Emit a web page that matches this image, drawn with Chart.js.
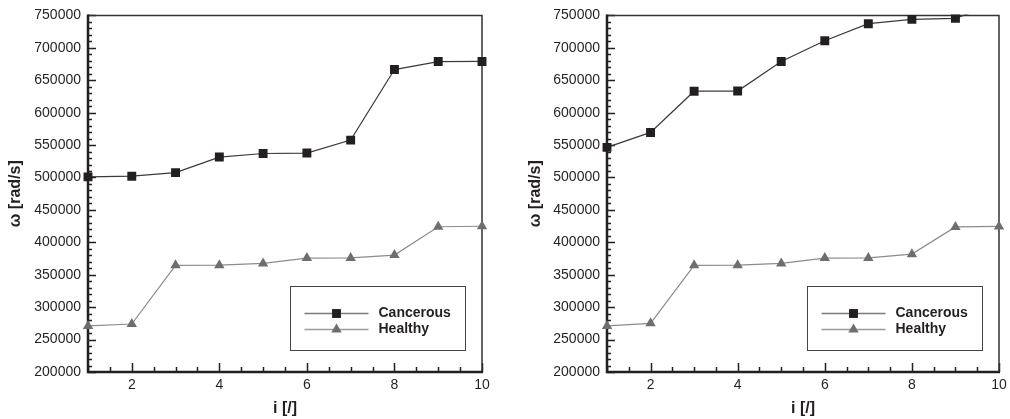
<!doctype html>
<html>
<head>
  <title>omega vs i</title>
  <script src="https://cdn.jsdelivr.net/npm/chart.js@4.4.1/dist/chart.umd.min.js"></script>
  <style>
    html, body { margin: 0; padding: 0; background: #fff; }
    .row { display: flex; width: 1010px; height: 419px; }
    canvas { display: block; }
  </style>
</head>
<body>
  <div class="row">
    <canvas id="leftChart" width="505" height="419"></canvas>
    <canvas id="rightChart" width="505" height="419"></canvas>
  </div>

  <script>
    // data
    var iValues = [1, 2, 3, 4, 5, 6, 7, 8, 9, 10];
    var leftCancerous = [501000, 502000, 507500, 531500, 537000, 537700, 557700, 666500, 678800, 679000];
    var leftHealthy = [271000, 274000, 364500, 364800, 367500, 375700, 376000, 380300, 424000, 424800];
    var rightCancerous = [546500, 569500, 633100, 633300, 678800, 711000, 737200, 743800, 745400, 770000];
    var rightHealthy = [271000, 275000, 364500, 364800, 367500, 375700, 376000, 381800, 423800, 424500];
    var xTickLabels = [2, 4, 6, 8, 10];
    var yMin = 200000, yMax = 750000, yStep = 50000, yMinorStep = 10000;
    var xMin = 1, xMax = 10, xMinorStep = 0.5;

    var FONT = "'Liberation Sans', Arial, sans-serif";
    var ink = '#231f20';

    function points(vals) {
      return vals.map(function(v, k) { return { x: iValues[k], y: v }; });
    }

    // frame + inward ticks, drawn under the data
    var frameTicks = {
      id: 'frameTicks',
      beforeDatasetsDraw: function(chart) {
        var ctx = chart.ctx, a = chart.chartArea;
        var xs = chart.scales.x, ys = chart.scales.y;
        ctx.save();
        ctx.strokeStyle = ink;
        ctx.lineWidth = 1.5;
        ctx.beginPath();
        for (var v = xMin; v <= xMax + 1e-9; v += xMinorStep) {
          var px = Math.round(xs.getPixelForValue(v)) + 0.5;
          var len = (v % 2 === 0) ? 9 : 5;
          ctx.moveTo(px, a.bottom);
          ctx.lineTo(px, a.bottom - len);
        }
        for (var w = yMin; w <= yMax; w += yMinorStep) {
          var py = Math.round(ys.getPixelForValue(w)) + 0.5;
          var l2 = (w % yStep === 0) ? 8 : 4;
          ctx.moveTo(a.left, py);
          ctx.lineTo(a.left + l2, py);
        }
        ctx.stroke();

        ctx.lineWidth = 1.5;
        ctx.strokeStyle = '#333';
        ctx.beginPath();
        ctx.moveTo(a.left, a.top);
        ctx.lineTo(a.right, a.top);
        ctx.lineTo(a.right, a.bottom);
        ctx.stroke();

        ctx.lineWidth = 2.5;
        ctx.strokeStyle = ink;
        ctx.beginPath();
        ctx.moveTo(a.left, a.top - 1);
        ctx.lineTo(a.left, a.bottom);
        ctx.lineTo(a.right + 1, a.bottom);
        ctx.stroke();
        ctx.restore();
      }
    };

    // boxed legend inside the plot, lower right
    var boxLegend = {
      id: 'boxLegend',
      afterDatasetsDraw: function(chart) {
        var ctx = chart.ctx, a = chart.chartArea;
        var w = 175, h = 64;
        var bx = Math.round(a.right - 17 - w) + 0.5, by = Math.round(a.bottom - 22 - h) + 0.5;
        ctx.save();
        ctx.fillStyle = '#fff';
        ctx.fillRect(bx, by, w, h);
        ctx.strokeStyle = '#444';
        ctx.lineWidth = 1;
        ctx.strokeRect(bx, by, w, h);
        chart.data.datasets.forEach(function(ds, k) {
          var y = by + 27 + k * 16;
          ctx.strokeStyle = ds.legendLine;
          ctx.lineWidth = 1.5;
          ctx.beginPath();
          ctx.moveTo(bx + 14, y);
          ctx.lineTo(bx + 78, y);
          ctx.stroke();
          ctx.fillStyle = ds.pointBackgroundColor;
          Chart.helpers.drawPoint(ctx, { pointStyle: ds.pointStyle, radius: ds.pointRadius, rotation: 0, borderWidth: 0 }, bx + 46, y);
          ctx.fillStyle = ink;
          ctx.font = 'bold 14px ' + FONT;
          ctx.textBaseline = 'middle';
          ctx.textAlign = 'left';
          ctx.fillText(ds.label, bx + 88, y);
        });
        ctx.restore();
      }
    };

    function makeChart(id, cancerous, healthy, axisWidth, titlePad, rightPad) {
      var ctx = document.getElementById(id).getContext('2d');
      return new Chart(ctx, {
        type: 'line',
        data: {
          datasets: [{
            label: 'Cancerous',
            data: points(cancerous),
            borderColor: '#3a3a3a',
            legendLine: '#7a7a7a',
            borderWidth: 1.2,
            pointStyle: 'rect',
            pointRadius: 6.3,
            pointBorderWidth: 0,
            pointBackgroundColor: ink,
            tension: 0,
            clip: { left: 8, right: 8, top: 1, bottom: 8 }
          }, {
            label: 'Healthy',
            data: points(healthy),
            borderColor: '#8c8c8c',
            legendLine: '#9a9a9a',
            borderWidth: 1.2,
            pointStyle: 'triangle',
            pointRadius: 6,
            pointBorderWidth: 0,
            pointBackgroundColor: '#6d6e71',
            tension: 0,
            clip: { left: 8, right: 8, top: 1, bottom: 8 }
          }]
        },
        options: {
          responsive: false,
          animation: false,
          events: [],
          layout: { padding: { top: 15, right: rightPad, bottom: 0, left: 0 } },
          plugins: {
            legend: { display: false },
            tooltip: { enabled: false }
          },
          scales: {
            x: {
              type: 'linear',
              min: xMin,
              max: xMax,
              grid: { display: false, drawTicks: false },
              border: { display: false },
              afterBuildTicks: function(s) {
                s.ticks = xTickLabels.map(function(v) { return { value: v }; });
              },
              afterFit: function(s) { s.height = 47; s.paddingRight = 0; },
              ticks: {
                padding: 5,
                color: ink,
                maxRotation: 0,
                font: { family: FONT, size: 14 }
              },
              title: {
                display: true,
                text: 'i [/]',
                color: ink,
                padding: { top: 0, bottom: 1 },
                font: { family: FONT, size: 16, weight: 'bold' }
              }
            },
            y: {
              type: 'linear',
              min: yMin,
              max: yMax,
              grid: { display: false, drawTicks: false },
              border: { display: false },
              afterFit: function(s) { s.width = axisWidth; },
              ticks: {
                stepSize: yStep,
                padding: 7,
                color: ink,
                font: { family: FONT, size: 14 },
                callback: function(v) { return String(v); }
              },
              title: {
                display: true,
                text: 'ω [rad/s]',
                color: ink,
                padding: { top: titlePad, bottom: 0 },
                font: { family: FONT, size: 16, weight: 'bold' }
              }
            }
          }
        },
        plugins: [frameTicks, boxLegend]
      });
    }

    window.leftChart = makeChart('leftChart', leftCancerous, leftHealthy, 88, 6, 23);
    window.rightChart = makeChart('rightChart', rightCancerous, rightHealthy, 102, 21, 11);
  </script>
</body>
</html>
